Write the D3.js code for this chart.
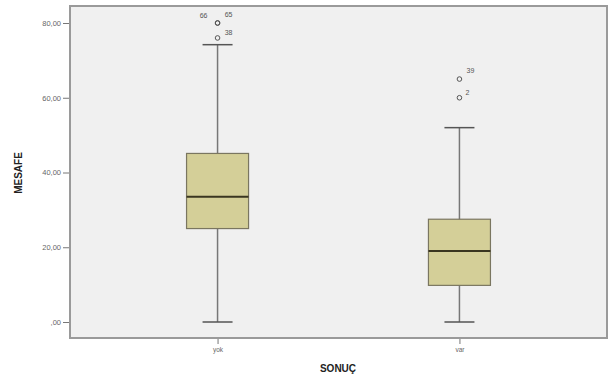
<!doctype html>
<html lang="en">
<head>
  <meta charset="utf-8">
  <title>MESAFE by SONUÇ</title>
  <style>
  body { margin: 0; background: #fff; }
  text { font-family: "Liberation Sans", Arial, sans-serif; }
  .tick text { fill: #666; font-size: 7.5px; }
  .axis-title { font-weight: bold; font-size: 10px; fill: #222; }
  </style>
</head>
<body>
  <div id="chart"></div>
  <script src="https://cdn.jsdelivr.net/npm/d3@7"></script>
  <script>
    (function(){

      // categories and box statistics
      var groups = ["yok", "var"];
      var lowWhisker = [0, 0];
      var q1 = [25, 9.8];
      var median = [33.5, 19];
      var q3 = [45.1, 27.5];
      var highWhisker = [74.2, 52];
      // outliers: [group, value, case label]
      var outliers = [
        ["yok", 80, "66"],
        ["yok", 80, "65"],
        ["yok", 76, "38"],
        ["var", 65, "39"],
        ["var", 60, "2"]
      ];
      var yTicks = [0, 20, 40, 60, 80];

      var width = 615, height = 376;
      var plot = {left: 70, right: 607, top: 6, bottom: 338};

      var svg = d3.select("#chart").append("svg")
          .attr("width", width)
          .attr("height", height);

      var y = d3.scaleLinear().domain([0, 80]).range([322, 23]);
      var x = d3.scalePoint().domain(groups).range([plot.left, plot.right]).padding(0.61);

      svg.append("rect")
        .attr("x", plot.left).attr("y", plot.top)
        .attr("width", plot.right - plot.left).attr("height", plot.bottom - plot.top)
        .attr("fill", "#f0f0f0")
        .attr("stroke", "#9a9a9a")
        .attr("stroke-width", 2);

      var yAxis = svg.append("g")
        .attr("transform", "translate(" + (plot.left - 1) + ",0)")
        .call(d3.axisLeft(y).tickValues(yTicks).tickSize(6).tickPadding(2)
          .tickFormat(function(d) { return d === 0 ? ",00" : d + ",00"; }));
      yAxis.select(".domain").remove();
      yAxis.selectAll("line").attr("stroke", "#777");

      var xAxis = svg.append("g")
        .attr("transform", "translate(0," + (plot.bottom + 1) + ")")
        .call(d3.axisBottom(x).tickSize(5).tickPadding(3));
      xAxis.select(".domain").remove();
      xAxis.selectAll("line").attr("stroke", "#777");
      xAxis.selectAll("text").style("font-size", "6.5px");

      svg.append("text").attr("class", "axis-title")
        .attr("x", 338).attr("y", 372)
        .attr("text-anchor", "middle")
        .text("SONUÇ");

      svg.append("text").attr("class", "axis-title")
        .attr("transform", "translate(22,173) rotate(-90)")
        .attr("text-anchor", "middle")
        .text("MESAFE");

      var boxW = 62, capW = 30;
      var g = svg.selectAll(".box").data(groups).enter().append("g").attr("class", "box");

      // whisker
      g.append("line")
        .attr("x1", function(d) { return x(d); }).attr("x2", function(d) { return x(d); })
        .attr("y1", function(d, i) { return y(lowWhisker[i]); })
        .attr("y2", function(d, i) { return y(highWhisker[i]); })
        .attr("stroke", "#777").attr("stroke-width", 1.5);

      [lowWhisker, highWhisker].forEach(function(arr) {
        g.append("line")
          .attr("x1", function(d) { return x(d) - capW / 2; })
          .attr("x2", function(d) { return x(d) + capW / 2; })
          .attr("y1", function(d, i) { return y(arr[i]); })
          .attr("y2", function(d, i) { return y(arr[i]); })
          .attr("stroke", "#555").attr("stroke-width", 1.5);
      });

      g.append("rect")
        .attr("x", function(d) { return x(d) - boxW / 2; })
        .attr("width", boxW)
        .attr("y", function(d, i) { return y(q3[i]); })
        .attr("height", function(d, i) { return y(q1[i]) - y(q3[i]); })
        .attr("fill", "#d4cf98")
        .attr("stroke", "#7a7660").attr("stroke-width", 1.2);

      g.append("line")
        .attr("x1", function(d) { return x(d) - boxW / 2; })
        .attr("x2", function(d) { return x(d) + boxW / 2; })
        .attr("y1", function(d, i) { return y(median[i]); })
        .attr("y2", function(d, i) { return y(median[i]); })
        .attr("stroke", "#3a3620").attr("stroke-width", 2);

      svg.selectAll(".outlier").data(outliers).enter().append("circle")
        .attr("cx", function(d) { return x(d[0]); })
        .attr("cy", function(d) { return y(d[1]); })
        .attr("r", 2.3)
        .attr("fill", "none")
        .attr("stroke", "#555").attr("stroke-width", 1);

      // case labels, offsets as SPSS staggers them
      var labelOffset = {"66": [-14, -8], "65": [11, -9], "38": [11, -6], "39": [11, -9], "2": [8, -6]};
      svg.selectAll(".olabel").data(outliers).enter().append("text")
        .attr("x", function(d) { return x(d[0]) + labelOffset[d[2]][0]; })
        .attr("y", function(d) { return y(d[1]) + labelOffset[d[2]][1] + 3; })
        .attr("text-anchor", "middle")
        .style("font-size", "7px")
        .attr("fill", "#555")
        .text(function(d) { return d[2]; });

    })();
  </script>
</body>
</html>
